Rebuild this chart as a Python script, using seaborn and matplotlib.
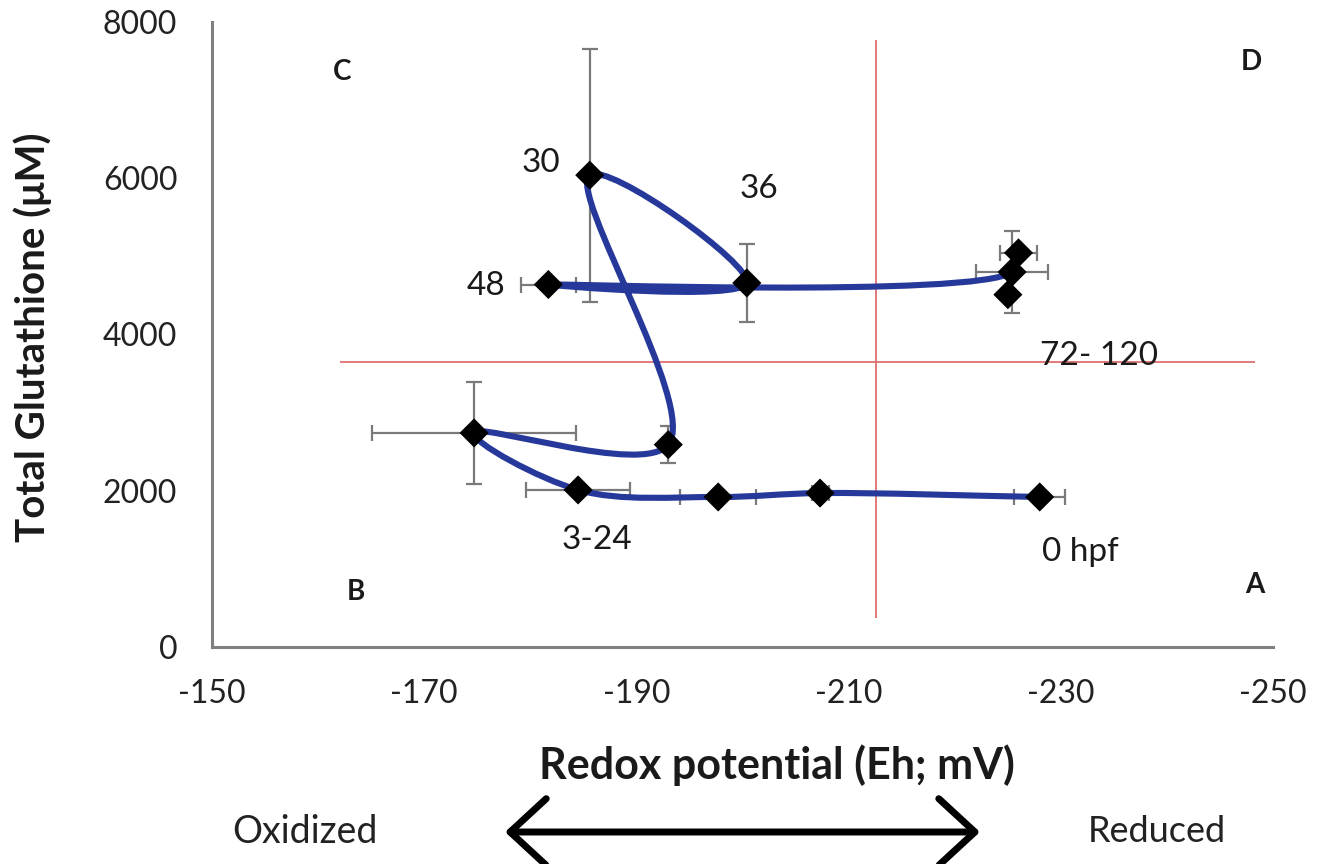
import numpy as np
import pandas as pd
import matplotlib
matplotlib.use("Agg")
import matplotlib.pyplot as plt
from matplotlib.path import Path
from matplotlib.patches import PathPatch
import seaborn as sns

# Werte (Reihenfolge = Entwicklungszeit)
stage_hpf = [0, 3, 6, 12, 24, 27, 30, 36, 48, 72, 96, 120]
eh_mv = [-228.0, -207.3, -197.7, -184.5, -174.7, -193.0, -185.6, -200.4, -181.7, -225.4, -226.0, -225.0]
gsh_um = [1920, 1970, 1920, 2010, 2740, 2590, 6040, 4660, 4640, 4800, 5045, 4510]
eh_err = [2.4, 0.8, 3.6, 4.9, 9.6, 0.5, 0.0, 0.0, 2.6, 3.4, 1.7, 0.0]
gsh_err = [0, 0, 0, 0, 650, 240, 1620, 500, 0, 530, 0, 0]

# Quadranten-Grenzen
eh_split = -212.6
gsh_split = 3650

point_labels = ["30", "36", "48", "72- 120", "3-24", "0 hpf"]
label_eh = [-181.0, -201.5, -175.8, -233.6, -186.3, -231.8]
label_gsh = [6200, 5860, 4620, 3730, 1370, 1210]

quadrants = ["C", "D", "B", "A"]
quad_eh = [-162.3, -247.9, -163.6, -248.3]
quad_gsh = [7360, 7490, 710, 790]

df = pd.DataFrame({"hpf": stage_hpf, "eh": eh_mv, "gsh": gsh_um})


def smooth_path(ax, xs, ys, alpha=0.5):
    # geglaettete Linie wie in Excel: centripetal Catmull-Rom -> Bezier (in Pixeln)
    pts = ax.transData.transform(np.column_stack([xs, ys]))
    n = len(pts)
    verts = [pts[0]]
    codes = [Path.MOVETO]
    for i in range(n - 1):
        p0 = pts[max(i - 1, 0)]
        p1 = pts[i]
        p2 = pts[i + 1]
        p3 = pts[min(i + 2, n - 1)]
        d1 = np.linalg.norm(p1 - p0) ** alpha
        d2 = np.linalg.norm(p2 - p1) ** alpha
        d3 = np.linalg.norm(p3 - p2) ** alpha
        if d1 < 1e-9:
            c1 = p1 + (p2 - p1) / 3
        else:
            c1 = (d1**2 * p2 - d2**2 * p0 + (2 * d1**2 + 3 * d1 * d2 + d2**2) * p1) / (3 * d1 * (d1 + d2))
        if d3 < 1e-9:
            c2 = p2 + (p1 - p2) / 3
        else:
            c2 = (d3**2 * p1 - d2**2 * p3 + (2 * d3**2 + 3 * d3 * d2 + d2**2) * p2) / (3 * d3 * (d3 + d2))
        verts += [c1, c2, p2]
        codes += [Path.CURVE4] * 3
    verts = ax.transData.inverted().transform(np.array(verts))
    return Path(verts, codes)


sns.set_style("white")
plt.rcParams['font.family'] = ['Lato', 'DejaVu Sans']
plt.rcParams['axes.unicode_minus'] = False

fig = plt.figure(figsize=(13.29, 8.64), dpi=100)
ax = fig.add_axes([0.1595, 0.2512, 0.7985, 0.7233])
ax.set_xlim(-150, -250)
ax.set_ylim(0, 8000)

ax.vlines(eh_split, 370, 7770, color="#e07070", lw=1.3, zorder=1)
ax.hlines(gsh_split, -162.1, -248.3, color="#e07070", lw=1.3, zorder=1)

ax.errorbar(eh_mv, gsh_um, xerr=eh_err, yerr=gsh_err, fmt="none",
            ecolor="#7a7a7a", elinewidth=1.6, capsize=6, capthick=1.6, zorder=2)

ax.add_patch(PathPatch(smooth_path(ax, df["eh"], df["gsh"]), facecolor="none",
                       edgecolor="#26399a", lw=4.4, zorder=3))

sns.scatterplot(data=df, x="eh", y="gsh", marker="D", color="black",
                s=220, edgecolor="none", zorder=4, ax=ax, legend=False)

for txt, x, y in zip(point_labels, label_eh, label_gsh):
    ax.text(x, y, txt, fontsize=24, color="#1a1a1a", ha="center", va="center")
for txt, x, y in zip(quadrants, quad_eh, quad_gsh):
    ax.text(x, y, txt, fontsize=20, fontweight="bold", color="#1a1a1a",
            ha="center", va="center")

ax.set_xticks(np.arange(-150, -251, -20))
ax.set_yticks(np.arange(0, 8001, 1000))
ax.set_yticklabels([str(v) if v % 2000 == 0 else "" for v in range(0, 8001, 1000)])

for side in ["top", "right"]:
    ax.spines[side].set_visible(False)
for side in ["left", "bottom"]:
    ax.spines[side].set_color("#808080")
    ax.spines[side].set_linewidth(2.2)

ax.tick_params(axis="both", direction="out", length=11, width=2, color="#808080",
               labelsize=23, labelcolor="#222222")
ax.tick_params(axis="y", pad=14)
ax.tick_params(axis="x", pad=12)

ax.set_xlabel("Redox potential (Eh; mV)", fontsize=31, fontweight="bold",
              color="#1a1a1a")
ax.set_ylabel("Total Glutathione (\u03bcM)", fontsize=29, fontweight="bold",
              color="#1a1a1a")
ax.xaxis.set_label_coords(0.5325, -0.189)
ax.yaxis.set_label_coords(-0.1687, 0.496)
ax.xaxis.label.set_va("center")
ax.yaxis.label.set_va("center")

fig.text(305 / 1329, 1 - 832 / 864, "Oxidized", fontsize=27, color="#222222",
         ha="center", va="center")
fig.text(1157 / 1329, 1 - 832 / 864, "Reduced", fontsize=26, color="#222222",
         ha="center", va="center")
ax.annotate("", xy=(980 / 1329, 1 - 832 / 864), xytext=(505 / 1329, 1 - 832 / 864),
            xycoords="figure fraction", textcoords="figure fraction",
            arrowprops=dict(arrowstyle="<->,head_length=1.3,head_width=1.2",
                            lw=5, color="black", mutation_scale=20,
                            shrinkA=0, shrinkB=0))

fig.savefig("out.png", dpi=100)
